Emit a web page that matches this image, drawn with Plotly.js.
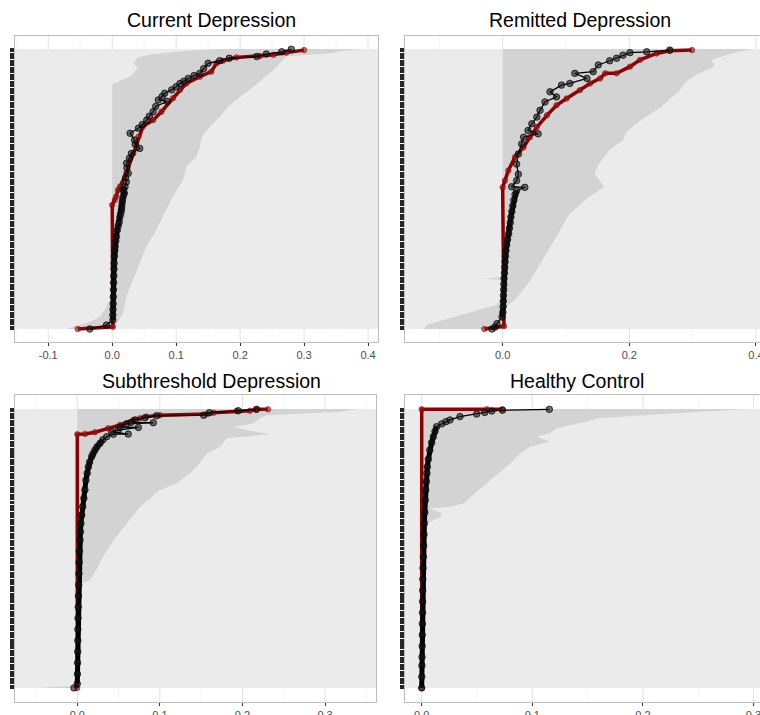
<!DOCTYPE html>
<html><head><meta charset="utf-8">
<script src="https://cdn.plot.ly/plotly-3.0.1.min.js"></script>
<style>html,body{margin:0;padding:0;overflow:hidden;background:#fff}#chart{width:775px;height:715px}</style>
</head><body><div id="chart"></div>
<script>
// ---------- titles and tick labels ----------
const panelTitles = ["Current Depression", "Remitted Depression", "Subthreshold Depression", "Healthy Control"];
const p1TickVals = [-0.1, 0, 0.1, 0.2, 0.3, 0.4];
const p1TickText = ["-0.1", "0.0", "0.1", "0.2", "0.3", "0.4"];
const p2TickVals = [0, 0.2, 0.4];
const p2TickText = ["0.0", "0.2", "0.4"];
const p3TickVals = [0, 0.1, 0.2, 0.3];
const p3TickText = ["0.0", "0.1", "0.2", "0.3"];
const p4TickVals = [0, 0.1, 0.2, 0.3];
const p4TickText = ["0.0", "0.1", "0.2", "0.3"];

// ---------- Panel 1: Current Depression (y = rank percentile, x = value) ----------
const p1BlackRank = [0, 1.4, 3.2, 5, 7, 9, 11.5, 14, 16.5, 19, 21.5, 23.5, 26, 28, 29.4, 31.5, 33, 35.4, 37, 38.3, 40, 41.3, 42.5, 43.7, 45, 46.1, 47.3, 48.5, 49.6, 50.8, 52.5, 54, 55.6, 57.5, 59.2, 61, 62.7, 64.5, 66, 67.5, 69.9, 71.7, 73, 74.6, 76, 77.6, 79.5, 81.3, 81.8, 83, 84.2, 85.4, 86.5, 87.7, 88.5, 89.5, 90.5, 91.3, 93, 94.9, 95.8, 96.7, 97.3, 98.2, 99.0, 99.9];
const p1Black = [-0.035, -0.009, 0.001, 0.001, 0.0012, 0.0015, 0.0017, 0.002, 0.0022, 0.0025, 0.0028, 0.003, 0.0035, 0.004, 0.0045, 0.0055, 0.0065, 0.008, 0.0095, 0.011, 0.012, 0.0135, 0.0145, 0.015, 0.0155, 0.016, 0.017, 0.019, 0.017, 0.02, 0.022, 0.021, 0.025, 0.023, 0.0225, 0.027, 0.03, 0.043, 0.036, 0.035, 0.028, 0.041, 0.047, 0.054, 0.058, 0.064, 0.068, 0.086, 0.072, 0.078, 0.082, 0.093, 0.1, 0.106, 0.112, 0.119, 0.128, 0.137, 0.143, 0.15, 0.168, 0.183, 0.226, 0.241, 0.265, 0.28];
const p1RedRank = [0, 0.8, 44.3, 46.1, 47.3, 49.6, 50.8, 55.6, 62.7, 68.7, 72.3, 74.6, 77.6, 82.4, 85.4, 87.7, 90.1, 91.9, 94.9, 95.8, 97.0, 97.5, 97.9, 98.7, 99.6];
const p1Red = [-0.054, 0.001, 0.0, 0.004, 0.006, 0.009, 0.012, 0.022, 0.033, 0.041, 0.048, 0.064, 0.077, 0.095, 0.106, 0.116, 0.137, 0.155, 0.163, 0.173, 0.194, 0.231, 0.252, 0.272, 0.30];
const p1HiRank = [0, 2.0, 5.6, 11.5, 17.5, 23.5, 29.4, 35.4, 42.5, 47.3, 53.2, 58.0, 61.5, 65.1, 68.7, 72.3, 75.8, 79.4, 81.8, 85.4, 89.5, 92.5, 94.9, 97.3, 98.45, 99.3, 100];
const p1Hi = [0.002, 0.007, 0.017, 0.022, 0.033, 0.043, 0.053, 0.069, 0.084, 0.095, 0.111, 0.116, 0.132, 0.137, 0.14, 0.153, 0.168, 0.181, 0.194, 0.215, 0.236, 0.252, 0.262, 0.272, 0.34, 0.36, 0.39];
const p1LoRank = [0, 1.4, 2.6, 4.4, 8, 12, 87.5, 88.5, 90.5, 93, 95, 97, 98, 99, 99.9, 100];
const p1Lo = [-0.071, -0.05, -0.035, -0.019, -0.009, 0.0, 0.0, 0.012, 0.03, 0.04, 0.033, 0.04, 0.06, 0.1, 0.15, 0.16];

// ---------- Panel 2: Remitted Depression ----------
const p2BlackRank = [0, 0.7, 1.9, 4.3, 6, 8, 10, 12, 14, 16, 18, 20, 22, 24, 26, 28, 30, 32, 34, 36, 38, 40, 42, 44, 46, 48, 49.4, 50.6, 50.8, 53.0, 55.3, 58.9, 62.5, 66.1, 68.5, 69.7, 70.9, 73.3, 75.7, 78.1, 81.1, 82.9, 84.7, 87.1, 87.7, 89.5, 91.3, 91.9, 94.3, 95.8, 96.7, 97.8, 98.7, 99.0, 99.6];
const p2Black = [-0.017, -0.012, -0.009, -0.001, 0.0003, 0.0007, 0.001, 0.0012, 0.0015, 0.0018, 0.0021, 0.0028, 0.0033, 0.0038, 0.0045, 0.0053, 0.0063, 0.0078, 0.0095, 0.0108, 0.012, 0.013, 0.0145, 0.016, 0.0175, 0.0195, 0.022, 0.035, 0.0142, 0.022, 0.0247, 0.022, 0.0247, 0.03, 0.033, 0.056, 0.04, 0.046, 0.054, 0.059, 0.0668, 0.085, 0.0747, 0.093, 0.106, 0.133, 0.114, 0.143, 0.151, 0.169, 0.18, 0.19, 0.201, 0.2275, 0.264];
const p2RedRank = [0, 1.0, 50.6, 53.0, 56.6, 61.4, 64.9, 68.5, 72.1, 76.3, 79.9, 82.3, 85.3, 87.7, 89.5, 91.3, 91.3, 93.7, 96.1, 98.4, 99.4, 99.6];
const p2Red = [-0.029, 0.002, 0.0, 0.0036, 0.009, 0.0195, 0.033, 0.043, 0.054, 0.07, 0.085, 0.101, 0.122, 0.138, 0.154, 0.162, 0.18, 0.201, 0.217, 0.243, 0.264, 0.299];
const p2HiRank = [0, 5.1, 7.5, 11.1, 17.1, 23.1, 29.1, 35, 41, 47, 50.6, 52.5, 55.4, 58.3, 61.3, 64.3, 67.3, 70.3, 73.3, 76.3, 79.3, 82.3, 85.3, 88.5, 91.3, 93.7, 96.1, 98.4, 100];
const p2Hi = [0.002, 0.002, 0.004, 0.022, 0.043, 0.059, 0.074, 0.09, 0.105, 0.135, 0.16, 0.155, 0.145, 0.15, 0.16, 0.17, 0.19, 0.195, 0.21, 0.23, 0.25, 0.265, 0.28, 0.29, 0.31, 0.335, 0.33, 0.36, 0.395];
const p2LoRank = [0, 1.5, 3.9, 6.3, 8.7, 12, 17.5, 18, 18.5, 100];
const p2Lo = [-0.125, -0.119, -0.083, -0.046, -0.009, 0.0, 0.0, -0.03, 0.0, 0.0];

// ---------- Panel 3: Subthreshold Depression ----------
const p3BlackRank = [0, 1.5, 5, 9, 13, 17, 21, 25, 29, 33, 37, 41, 45, 49, 53, 56, 59, 62, 65, 68, 71, 74.5, 77, 79.3, 81, 82.9, 84, 85.3, 86.5, 87.7, 89, 90.1, 91.0, 91.05, 91.9, 92.5, 93.4, 93.5, 94.7, 95.1, 95.2, 96.1, 96.9, 97.6, 97.8, 98.7, 99.4, 99.9];
const p3Black = [-0.004, 0.0, 0.0002, 0.0004, 0.0005, 0.0006, 0.0007, 0.0009, 0.0011, 0.0014, 0.0017, 0.002, 0.0022, 0.0025, 0.0033, 0.0038, 0.0044, 0.0054, 0.0065, 0.008, 0.0093, 0.0105, 0.012, 0.0134, 0.015, 0.0174, 0.019, 0.0214, 0.024, 0.0275, 0.031, 0.0356, 0.0436, 0.0617, 0.0416, 0.0497, 0.074, 0.052, 0.0597, 0.092, 0.065, 0.07, 0.082, 0.096, 0.153, 0.16, 0.195, 0.217];
const p3RedRank = [0, 91.0, 91.1, 91.7, 93.1, 94.3, 96.1, 96.7, 97.3, 97.8, 98.2, 98.7, 99.3, 99.4, 99.9, 99.9];
const p3Red = [0.0, 0.0, 0.0093, 0.0214, 0.0375, 0.0517, 0.068, 0.076, 0.084, 0.100, 0.157, 0.165, 0.193, 0.209, 0.217, 0.231];
const p3HiRank = [0, 36.9, 37.7, 38.6, 42.2, 47.0, 53.0, 59.0, 65.0, 71.0, 73.3, 76.9, 80.5, 84.1, 86.5, 89.5, 91.0, 92.5, 93.6, 94.8, 96.6, 97.8, 99.0, 99.9, 100];
const p3Hi = [0.0, 0.0, 0.007, 0.015, 0.023, 0.031, 0.044, 0.06, 0.076, 0.1, 0.12, 0.136, 0.148, 0.157, 0.173, 0.181, 0.233, 0.205, 0.189, 0.213, 0.221, 0.229, 0.318, 0.338, 0.34];
const p3LoRank = [0, 0.8, 100];
const p3Lo = [-0.05, 0.0, 0.0];

// ---------- Panel 4: Healthy Control ----------
const p4BlackRank = [0, 4, 8, 11.1, 15, 19, 23, 27, 31, 35, 39, 43, 47, 51, 55, 59, 63, 67.3, 71, 74, 77, 79.3, 82, 85.3, 88, 90.1, 92, 93.7, 94.7, 95.5, 96.1, 97.3, 98.2, 98.8, 99.3, 99.6, 99.9];
const p4Black = [0.0, 0.0001, 0.0002, 0.0003, 0.0004, 0.0005, 0.0006, 0.0007, 0.0008, 0.0009, 0.001, 0.0012, 0.0015, 0.0018, 0.0021, 0.0024, 0.0028, 0.0032, 0.0036, 0.0042, 0.0047, 0.0051, 0.006, 0.0073, 0.009, 0.0105, 0.012, 0.0135, 0.0181, 0.022, 0.0256, 0.0346, 0.0497, 0.057, 0.0633, 0.073, 0.1154];
const p4RedRank = [0, 99.9, 99.9, 99.9];
const p4Red = [0.0, 0.0, 0.059, 0.073];
const p4HiRank = [0, 55, 59.0, 60.2, 61.4, 62.6, 64.4, 65.0, 66.2, 69.7, 73.3, 76.9, 80.5, 84.1, 86.5, 88.3, 90.1, 91.3, 93.1, 94.3, 95.4, 96.6, 97.8, 99.0, 99.9, 100];
const p4Hi = [0.0, 0.001, 0.0045, 0.011, 0.017, 0.018, 0.0076, 0.026, 0.038, 0.048, 0.059, 0.07, 0.08, 0.089, 0.098, 0.116, 0.104, 0.116, 0.122, 0.134, 0.149, 0.158, 0.2, 0.252, 0.291, 0.295];
const p4LoRank = [0, 100];
const p4Lo = [0.0, 0.0];

// ---------- layout config (positions/styles) ----------
const W = 775, H = 715;
const FONT = "Liberation Sans, Arial, Helvetica, sans-serif";
const panels = [
  {ax: "", title: panelTitles[0], tx: 211, ty: 20, xpx: [15, 378], ypx: [36, 342], range: [-0.152, 0.4156], yr: [-4.64, 104.64], tv: p1TickVals, tt: p1TickText, minor: 0.05,
   black: [p1BlackRank, p1Black], red: [p1RedRank, p1Red], hi: [p1HiRank, p1Hi], lo: [p1LoRank, p1Lo], body: [3, 51]},
  {ax: "2", title: panelTitles[1], tx: 580, ty: 20, xpx: [405, 768], ypx: [36, 342], range: [-0.1543, 0.4191], yr: [-4.64, 104.64], tv: p2TickVals, tt: p2TickText, minor: 0.1,
   black: [p2BlackRank, p2Black], red: [p2RedRank, p2Red], hi: [p2HiRank, p2Hi], lo: [p2LoRank, p2Lo], body: [4, 49.5]},
  {ax: "3", title: panelTitles[2], tx: 211, ty: 381, xpx: [15, 376], ypx: [395, 702], range: [-0.0754, 0.3617], yr: [-5.05, 105.05], tv: p3TickVals, tt: p3TickText, minor: 0.05,
   black: [p3BlackRank, p3Black], red: [p3RedRank, p3Red], hi: [p3HiRank, p3Hi], lo: [p3LoRank, p3Lo], body: [1.5, 89.5]},
  {ax: "4", title: panelTitles[3], tx: 577, ty: 381, xpx: [405, 768], ypx: [395, 702], range: [-0.0151, 0.3131], yr: [-5.05, 105.05], tv: p4TickVals, tt: p4TickText, minor: 0.05,
   black: [p4BlackRank, p4Black], red: [p4RedRank, p4Red], hi: [p4HiRank, p4Hi], lo: [p4LoRank, p4Lo], body: [0, 94]}
];

// one tick per (half) row: hundreds of category ticks merge into a dark strip
const rowTicks = [];
for (let r = 0; r <= 100; r += 0.5) rowTicks.push(r);

const traces = [];
const layout = {
  width: W, height: H, margin: {l: 0, r: 0, t: 0, b: 0},
  paper_bgcolor: "#ffffff", plot_bgcolor: "#ffffff",
  showlegend: false, annotations: [], shapes: [],
  font: {family: FONT}
};

panels.forEach(p => {
  const xa = "x" + p.ax, ya = "y" + p.ax;
  const common = {type: "scatter", xaxis: xa, yaxis: ya, hoverinfo: "skip", showlegend: false};
  // ribbon (lower then upper, filled between)
  traces.push(Object.assign({}, common, {x: p.lo[1], y: p.lo[0], mode: "lines", line: {width: 0, color: "#d3d3d3"}}));
  traces.push(Object.assign({}, common, {x: p.hi[1], y: p.hi[0], mode: "lines", line: {width: 0, color: "#d3d3d3"}, fill: "tonextx", fillcolor: "#d3d3d3"}));
  // red line
  traces.push(Object.assign({}, common, {x: p.red[1], y: p.red[0], mode: "lines+markers",
    line: {color: "#8b0000", width: 3.5}, marker: {size: 5.5, color: "rgba(160,20,20,0.6)", line: {width: 0.6, color: "rgba(139,0,0,0.9)"}}}));
  // dense black body (many overlapping points) drawn as thick line
  const bx = [], by = [];
  p.black[0].forEach((r, i) => { if (r >= p.body[0] && r <= p.body[1]) { by.push(r); bx.push(p.black[1][i]); } });
  traces.push(Object.assign({}, common, {x: bx, y: by, mode: "lines", line: {color: "#000000", width: 5}}));
  // black line with points
  traces.push(Object.assign({}, common, {x: p.black[1], y: p.black[0], mode: "lines+markers",
    line: {color: "#000000", width: 1.3}, marker: {size: 6.5, color: "rgba(25,25,25,0.6)", line: {width: 0.8, color: "rgba(0,0,0,0.9)"}}}));

  const xname = "xaxis" + p.ax, yname = "yaxis" + p.ax;
  layout[xname] = {
    domain: [p.xpx[0] / W, p.xpx[1] / W], anchor: ya, range: p.range, fixedrange: true,
    tickmode: "array", tickvals: p.tv, ticktext: p.tt,
    ticks: "outside", ticklen: 3, tickwidth: 1, tickcolor: "#333333",
    tickfont: {family: FONT, size: 11, color: "#4d4d4d"},
    showgrid: false, zeroline: false, showline: true, linecolor: "#bdbdbd", linewidth: 1, mirror: true, automargin: false
  };
  layout[yname] = {
    domain: [1 - p.ypx[1] / H, 1 - p.ypx[0] / H], anchor: xa, range: p.yr, fixedrange: true,
    tickmode: "array", tickvals: rowTicks, showticklabels: false,
    ticks: "outside", ticklen: 4, tickwidth: 1.2, tickcolor: "#262626",
    showgrid: false, zeroline: false, showline: true, linecolor: "#bdbdbd", linewidth: 1, mirror: true, automargin: false
  };
  // extent of the data rows
  const allRanks = p.black[0].concat(p.hi[0]);
  const rowMin = Math.min.apply(null, allRanks), rowMax = Math.max.apply(null, allRanks);
  // vertical grid lines (visible only in the white margins above/below the rows)
  const gridVals = [];
  for (let g = Math.ceil(p.range[0] / p.minor - 1e-9); g * p.minor <= p.range[1] + 1e-9; g++) gridVals.push(g * p.minor);
  gridVals.forEach(g => {
    const major = p.tv.some(t => Math.abs(t - g) < 1e-6);
    const st = {color: major ? "#e2e2e2" : "#eeeeee", width: major ? 1 : 0.6};
    layout.shapes.push({type: "line", xref: xa, yref: ya, x0: g, x1: g, y0: p.yr[0], y1: rowMin, line: st, layer: "below"});
    layout.shapes.push({type: "line", xref: xa, yref: ya, x0: g, x1: g, y0: rowMax, y1: p.yr[1], line: st, layer: "below"});
  });
  // dense horizontal row gridlines appear as a solid grey band over the data rows
  layout.shapes.push({type: "rect", xref: xa, yref: ya, x0: p.range[0], x1: p.range[1],
    y0: rowMin, y1: rowMax, fillcolor: "#ebebeb", line: {width: 0}, layer: "below"});
  layout.annotations.push({text: p.title, xref: "paper", yref: "paper", x: p.tx / W, y: 1 - p.ty / H,
    xanchor: "center", yanchor: "middle", showarrow: false, font: {family: FONT, size: 19.5, color: "#000000"}});
});

Plotly.newPlot("chart", traces, layout, {staticPlot: true, displayModeBar: false});
</script>
</body></html>
